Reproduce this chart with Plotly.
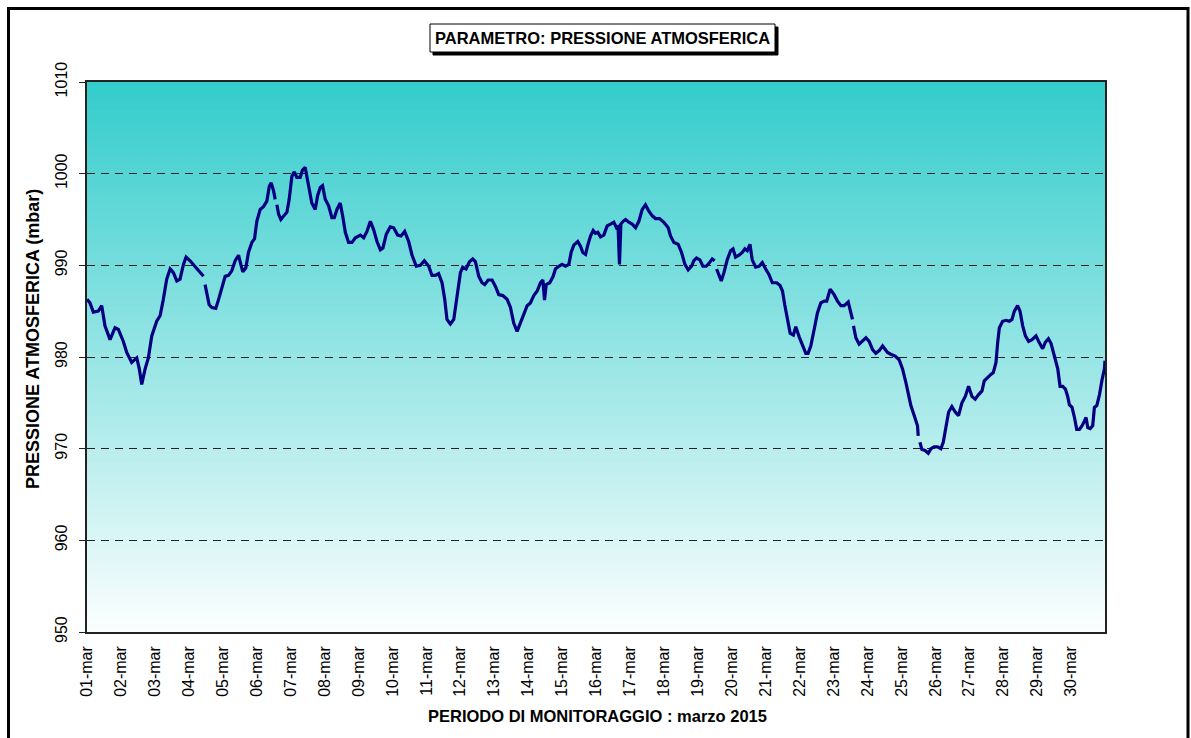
import plotly.graph_objects as go

# ---------------- data ----------------
# hours since 01-mar 00:00 ; None = missing data (gap in the line)
hours = [
    0, 2.1, 4.5, 8.0, 10.4, 12.7, 16.3, 19.8, 22.2, 25.7, 28.1, 31.6, 35.2, 37.0, 38.7,
    41.1, 43.4, 45.8, 49.3, 51.7, 54.0, 56.4, 58.8, 61.1, 63.5, 65.8, 68.2, 70.1, 72.9,
    76.5, 78.8, 81.2, 82.4, 83.0,
    83.5, 84.7, 86.4, 88.3, 91.1, 93.5, 95.3, 97.7, 100.1, 102.4, 104.8, 107.2, 108.8,
    110.2, 112.3, 114.2, 116.6, 118.5, 120.1, 122.5, 124.8, 127.2, 128.9, 130.3, 132.0,
    133.1, 133.7,
    134.3, 135.5, 137.1, 139.0, 141.4, 143.0, 144.9, 146.6, 148.4, 150.8, 152.4, 154.3,
    156.7, 159.0, 161.4, 163.1, 165.0, 166.6, 168.5, 170.9, 173.2, 174.9, 176.8, 179.1,
    180.8, 182.7, 185.0, 187.4, 189.8, 193.3, 195.7, 198.0, 200.4, 202.7, 205.1, 207.5,
    209.3, 211.7, 214.5, 216.9, 219.7, 222.1, 224.7, 227.5, 229.9, 232.9, 235.8, 238.6,
    241.7, 244.0, 246.4, 248.7, 251.1, 253.0, 254.6, 257.0, 259.4, 261.7, 264.1, 265.7,
    268.1, 270.5, 272.8, 274.7, 277.1, 279.4, 281.3, 283.7, 286.5, 288.9, 291.2, 294.1,
    297.1, 299.5, 301.8, 304.2, 306.6, 308.9, 311.3, 313.6, 316.0, 318.4, 320.7, 322.4,
    323.6, 324.8, 327.3, 329.7, 331.3, 333.7, 336.0, 338.4, 340.8, 342.4, 344.3, 347.1,
    349.0, 350.7, 352.6, 354.2, 356.1, 358.0, 359.6, 361.3, 363.2, 365.5, 367.9, 370.3,
    372.6, 374.5, 375.6, 376.6, 377.6, 379.2, 380.9, 383.2, 385.6, 388.0, 390.3, 392.7,
    395.0, 397.4, 399.8, 402.1, 404.9, 408.0, 411.1, 412.7, 415.1, 418.1, 420.5, 422.9,
    425.2, 427.6, 429.2, 431.1, 433.5, 435.6, 438.0, 440.3, 442.2, 443.9, 444.6,
    445.3, 447.0, 448.6, 450.5, 452.8, 455.2, 456.9, 458.7, 461.1, 463.5, 465.3, 467.0,
    468.9, 470.5, 472.9, 475.3, 477.6, 480.0, 482.3, 484.7, 487.8, 490.2, 491.9, 493.5,
    495.4, 497.3, 499.6, 501.3, 503.7, 506.0, 508.4, 510.0, 511.9, 514.3, 516.6, 519.0,
    521.4, 523.2, 525.6, 528.4, 530.8, 533.2, 535.5, 538.4, 540.2, 541.4, 541.8,
    542.1, 543.8, 546.1, 548.5, 550.9, 553.2, 555.6, 557.9, 560.3, 562.7, 565.0, 566.2,
    568.5, 571.6, 574.4, 576.8, 579.2, 581.0, 582.7, 585.1, 587.4, 587.9, 588.5,
    589.1, 590.5, 592.8, 595.0, 596.9, 599.2, 601.6, 603.9, 605.6, 607.5, 609.4, 611.7,
    614.1, 616.4, 618.8, 621.2, 623.5, 625.9, 628.2, 630.6, 633.0, 634.6, 637.0, 639.3,
    641.0, 642.9, 644.1, 645.3, 647.6, 650.0, 652.3, 654.2, 655.9, 658.2, 659.9, 661.8,
    663.7, 666.0, 668.4, 671.2, 673.1, 675.9, 677.8, 680.0, 681.8, 684.2, 686.6, 688.2,
    690.1, 692.0, 693.6, 694.8, 696.7, 698.4, 700.0, 701.9, 703.8, 705.4, 706.6, 707.8,
    709.5, 711.3, 712.5, 714.2, 716.1, 717.9, 719.6, 720.0,
]
pressure = [
    986.3, 985.9, 984.9, 985.0, 985.6, 983.4, 981.9, 983.2, 983.0, 981.7, 980.5, 979.4, 979.9, 978.7, 977.0,
    978.7, 979.9, 982.3, 983.9, 984.5, 986.3, 988.5, 989.6, 989.2, 988.3, 988.5, 990.1, 990.9, 990.5,
    989.9, 989.4, 989.0, 988.8, None,
    987.9, 987.0, 985.7, 985.4, 985.3, 986.5, 987.6, 988.8, 988.9, 989.4, 990.5, 991.1, 990.1,
    989.3, 989.7, 991.4, 992.5, 992.9, 994.8, 996.1, 996.4, 997.0, 998.6, 999.0, 998.1,
    997.2, None,
    996.6, 995.6, 995.0, 995.4, 995.8, 997.2, 999.7, 1000.2, 999.6, 999.6, 1000.4, 1000.7,
    998.6, 996.8, 996.1, 997.6, 998.5, 998.7, 997.2, 996.5, 995.2, 995.2, 996.1, 996.8,
    995.4, 993.6, 992.5, 992.5, 993.0, 993.3, 993.0, 993.7, 994.8, 993.9, 992.6, 991.7,
    991.9, 993.4, 994.2, 994.1, 993.3, 993.2, 993.7, 992.6, 991.1, 989.9, 990.0, 990.5,
    989.9, 988.9, 988.9, 989.1, 988.1, 986.3, 984.1, 983.6, 984.1, 986.7, 989.2, 989.8,
    989.6, 990.4, 990.7, 990.4, 988.8, 988.1, 987.9, 988.4, 988.4, 987.7, 986.8, 986.7,
    986.3, 985.4, 983.7, 982.8, 983.7, 984.7, 985.6, 985.9, 986.7, 987.2, 988.1, 988.4,
    986.2, 987.9, 988.1, 988.8, 989.6, 989.9, 990.1, 989.9, 990.1, 991.4, 992.2, 992.6,
    992.1, 991.4, 991.2, 992.2, 993.2, 993.8, 993.5, 993.6, 993.1, 993.3, 994.3, 994.5,
    994.7, 994.1, 994.2, 990.1, 994.5, 994.8, 995.0, 994.7, 994.5, 994.1, 994.8, 996.1,
    996.6, 995.9, 995.4, 995.1, 995.1, 994.7, 994.1, 993.2, 992.5, 992.3, 991.4, 990.1,
    989.5, 989.9, 990.5, 990.8, 990.6, 989.9, 989.9, 990.3, 990.7, 990.5, None,
    989.6, 988.9, 988.3, 989.2, 990.6, 991.6, 991.8, 990.9, 991.1, 991.4, 991.8, 991.6,
    992.3, 990.6, 989.8, 989.9, 990.3, 989.6, 989.0, 988.1, 988.1, 987.8, 987.2, 985.7,
    984.1, 982.6, 982.4, 983.3, 982.2, 981.4, 980.4, 980.4, 981.2, 983.0, 984.8, 985.9,
    986.1, 986.1, 987.4, 986.8, 986.1, 985.6, 985.6, 986.0, 984.8, 984.1, None,
    983.4, 982.1, 981.4, 981.7, 982.1, 981.7, 980.8, 980.4, 980.7, 981.2, 980.8, 980.5,
    980.3, 980.1, 979.7, 978.7, 977.2, 975.7, 974.7, 973.6, 972.5, 971.4, None,
    970.7, 969.9, 969.8, 969.5, 970.0, 970.2, 970.2, 970.0, 970.7, 972.5, 974.0, 974.6,
    974.0, 973.6, 975.0, 975.7, 976.8, 975.7, 975.4, 975.9, 976.3, 977.4, 977.8, 978.1,
    978.3, 979.4, 981.6, 983.2, 983.9, 984.0, 983.9, 984.1, 985.0, 985.6, 985.0, 983.4,
    982.3, 981.7, 981.9, 982.3, 981.7, 980.9, 981.6, 982.0, 981.5, 980.1, 978.7, 976.8,
    976.8, 976.5, 975.7, 974.8, 974.5, 973.4, 972.1, 972.1, 972.5, 973.0, 973.4, 972.3,
    972.2, 972.5, 974.5, 974.7, 975.9, 977.5, 978.7, 979.6,
]

day_labels = [
    "01-mar", "02-mar", "03-mar", "04-mar", "05-mar", "06-mar", "07-mar", "08-mar",
    "09-mar", "10-mar", "11-mar", "12-mar", "13-mar", "14-mar", "15-mar", "16-mar",
    "17-mar", "18-mar", "19-mar", "20-mar", "21-mar", "22-mar", "23-mar", "24-mar",
    "25-mar", "26-mar", "27-mar", "28-mar", "29-mar", "30-mar",
]
day_tick_hours = [24 * i for i in range(len(day_labels))]
y_ticks = [950, 960, 970, 980, 990, 1000, 1010]

chart_title = "PARAMETRO: PRESSIONE ATMOSFERICA"
x_title = "PERIODO DI MONITORAGGIO : marzo 2015"
y_title = "PRESSIONE ATMOSFERICA (mbar)"

# ---------------- layout geometry (pixels) ----------------
W, H = 1191, 738
L, R, T, B = 87, 1105, 82, 632


def px(x):
    return (x - L) / (R - L)


def py(y):
    return (B - y) / (B - T)


FONT = "Liberation Sans, Arial, Helvetica, sans-serif"

fig = go.Figure()
fig.add_trace(go.Scatter(
    x=hours, y=pressure, mode="lines", connectgaps=False,
    line=dict(color="#000080", width=3.2), hoverinfo="skip", showlegend=False,
))

shapes = []
# vertical gradient background of the plot area (teal -> white)
top_rgb = (51, 204, 204)
bot_rgb = (252, 254, 254)
n = 120
for i in range(n):
    f = (i + 0.5) / n
    c = tuple(int(round(top_rgb[k] + (bot_rgb[k] - top_rgb[k]) * f)) for k in range(3))
    shapes.append(dict(
        type="rect", xref="paper", yref="paper", x0=0, x1=1,
        y0=max(0, 1 - (i + 1) / n - 0.002), y1=1 - i / n,
        fillcolor="rgb(%d,%d,%d)" % c, line=dict(width=0), layer="below",
    ))

# outer frame
shapes.append(dict(type="rect", xref="paper", yref="paper",
                   x0=px(8.5), x1=px(1188), y0=py(760), y1=py(8.5),
                   line=dict(color="black", width=3), fillcolor="rgba(0,0,0,0)", layer="above"))
# title box shadow + box
shapes.append(dict(type="rect", xref="paper", yref="paper",
                   x0=px(433), x1=px(778), y0=py(55), y1=py(27),
                   line=dict(color="black", width=1), fillcolor="black", layer="above"))
shapes.append(dict(type="rect", xref="paper", yref="paper",
                   x0=px(430), x1=px(775), y0=py(52), y1=py(24),
                   line=dict(color="black", width=1), fillcolor="white", layer="above"))

annotations = [
    dict(text="<b>%s</b>" % chart_title, xref="paper", yref="paper",
         x=px(602.5), y=py(38.5), xanchor="center", yanchor="middle", showarrow=False,
         font=dict(family=FONT, size=16.5, color="black")),
    dict(text="<b>%s</b>" % x_title, xref="paper", yref="paper",
         x=px(597), y=py(716), xanchor="center", yanchor="middle", showarrow=False,
         font=dict(family=FONT, size=16.5, color="black")),
    dict(text="<b>%s</b>" % y_title, xref="paper", yref="paper",
         x=px(33), y=py(339), xanchor="center", yanchor="middle", showarrow=False,
         textangle=-90, font=dict(family=FONT, size=18, color="black")),
]

fig.update_layout(
    width=W, height=H,
    margin=dict(l=L, r=W - R, t=T, b=H - B, pad=0),
    paper_bgcolor="white", plot_bgcolor="white",
    shapes=shapes, annotations=annotations,
    font=dict(family=FONT, color="black"),
    xaxis=dict(
        range=[0, 720], tickmode="array", tickvals=day_tick_hours, ticktext=day_labels,
        tickangle=-90, tickfont=dict(size=16), ticks="", showgrid=False, zeroline=False,
        showline=True, linecolor="#222", linewidth=1.5, mirror=True, ticklabelstandoff=6,
    ),
    yaxis=dict(
        range=[950, 1010], tickmode="array", tickvals=y_ticks, tickangle=-90,
        tickfont=dict(size=16), ticks="outside", ticklen=6, tickcolor="#222",
        showgrid=True, gridcolor="#222", gridwidth=1, griddash="8px,6px",
        zeroline=False, showline=True, linecolor="#222", linewidth=1.5, mirror=True,
        ticklabelstandoff=6,
    ),
)

fig.write_html("out.html", include_plotlyjs=True, full_html=True,
               config={"displayModeBar": False},
               post_script="document.body.style.margin='0px';document.body.style.overflow='hidden';")
